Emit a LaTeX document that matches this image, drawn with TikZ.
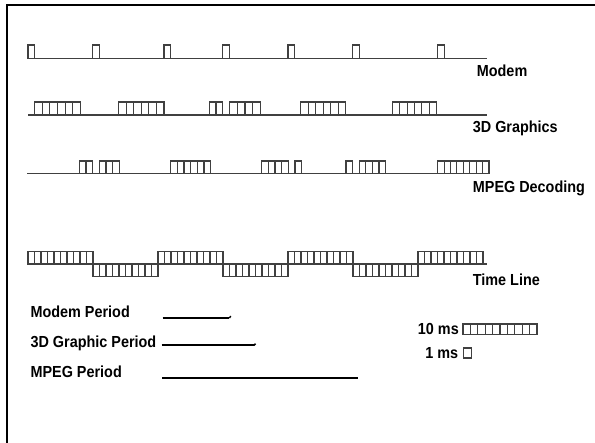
\documentclass[tikz,border=0pt]{standalone}
\usepackage{fontspec}
\setmainfont{Liberation Sans}
\newfontfamily\lblfont[FakeStretch=0.9]{Liberation Sans}
\usetikzlibrary{positioning}

\begin{document}
\begin{tikzpicture}[
    x=1pt, y=-1pt,
    sig/.style={
        black!75,
        line width=1.1pt
    },
    period/.style={
        black,
        line width=2pt
    },
    lbl/.style={
        anchor=base west,
        inner sep=0pt,
        font=\lblfont\fontsize{16}{18}\selectfont\bfseries
    },
    frame/.style={
        black,
        line width=1.5pt
    }
]
\useasboundingbox (0,0) rectangle (595,443);

% Frame
\draw[frame] (6.8,443) -- (6.8,5) -- (595,5);

% Modem
\draw[sig] (28,58.5) -- (486.7,58.5);
\foreach \xa in {28,92.7,164,222.7,288,352.7,437.7}
    \draw[sig] (\xa,58.5) rectangle ++(6.5,-13.5);

% 3D Graphics
\draw[sig] (28,115) -- (486.7,115);
\foreach \xa/\xb/\n in {34.5/80.5/6, 118.5/164/6, 209.3/222.7/2, 229.3/260.7/4, 300.7/345.7/6, 392.3/436.7/6}{
    \draw[sig] (\xa,115) rectangle (\xb,102);
    \pgfmathsetmacro\w{(\xb-\xa)/\n}
    \foreach \k in {1,...,\n}
        \draw[sig] (\xa+\k*\w,115) -- (\xa+\k*\w,102);
}

% MPEG Decoding
\draw[sig] (27.3,173.5) -- (489,173.5);
\foreach \xa/\xb/\n in {79.3/92.7/2, 99.3/119.3/3, 170.7/210.7/6, 261.7/288.3/4, 295/301.7/1, 346/352.7/1, 359.3/385.5/4, 437.7/489/8}{
    \draw[sig] (\xa,173.5) rectangle (\xb,161);
    \pgfmathsetmacro\w{(\xb-\xa)/\n}
    \foreach \k in {1,...,\n}
        \draw[sig] (\xa+\k*\w,173.5) -- (\xa+\k*\w,161);
}

% Time Line
\draw[sig] (28,264) -- (486.7,264);
\foreach \p in {0,...,6}{
    \pgfmathsetmacro\xa{28+65*\p}
    \pgfmathsetmacro\yt{ifthenelse(mod(\p,2)==0,251.3,264)}
    \draw[sig] (\xa,\yt) rectangle ++(65,12.7);
    \foreach \k in {1,...,9}
        \draw[sig] (\xa+\k*6.5,\yt) -- ++(0,12.7);
}

% Labels
\node[lbl] (modem) at (476.7,77) {Modem};
\node[lbl] (gfx) at (472.7,132.5) {3D Graphics};
\node[lbl] (mpeg) at (472.7,193) {MPEG Decoding};
\node[lbl] (timeline) at (472.7,285.5) {Time Line};

% Periods
\node[lbl] (modemper) at (30.4,318) {Modem Period};
\node[lbl] (gfxper) at (30.4,347.5) {3D Graphic Period};
\node[lbl] (mpegper) at (30.4,378) {MPEG Period};

\coordinate (modemA) at (162.7,318);
\coordinate (modemB) at (229.3,318);
\coordinate (gfxA) at (161.7,345.5);
\coordinate (gfxB) at (254,345.5);
\coordinate (mpegA) at (162.4,378);
\coordinate (mpegB) at (357.9,378);

\draw[period] (modemA) -- (modemB);
\draw[period, line width=1.5pt] (modemB) -- ++(1.5,-1.8);
\draw[period] (gfxA) -- (gfxB);
\draw[period, line width=1.5pt] (gfxB) -- ++(1.5,-1.8);
\draw[period] (mpegA) -- (mpegB);

% Scale
\node[lbl, anchor=base east] (tenms) at (459,335) {10 ms};
\draw[sig] (463,334.5) rectangle (537,324);
\foreach \k in {1,...,9}
    \draw[sig] (463+\k*7.4,334.5) -- ++(0,-10.5);
\node[lbl, anchor=base east] (onems) at (458.4,358.5) {1 ms};
\draw[sig] (463.8,358) rectangle (471.3,348);

\end{tikzpicture}
\end{document}
